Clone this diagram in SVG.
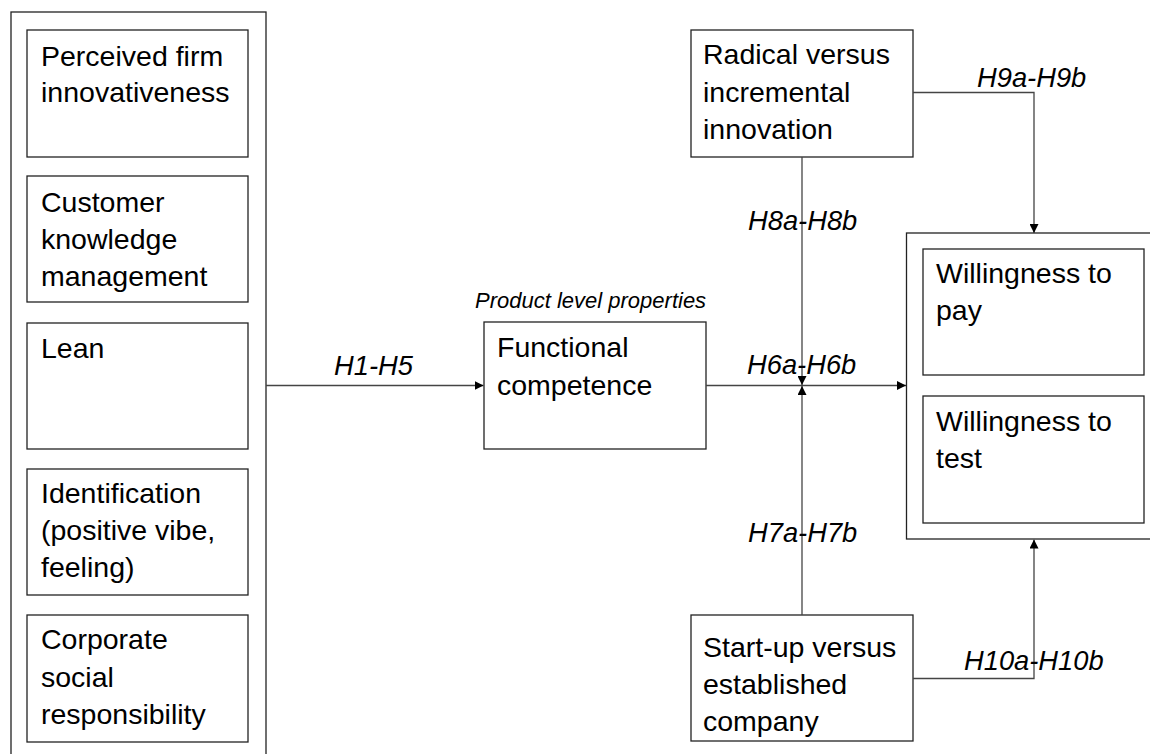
<svg xmlns="http://www.w3.org/2000/svg" width="1150" height="754" viewBox="0 0 1150 754">
<style>
.box{fill:#fff;stroke:#222;stroke-width:1.3}
.frame{fill:none;stroke:#222;stroke-width:1.3}
.t{font-family:"Liberation Sans",Arial,sans-serif;font-size:28.5px;fill:#000}
.lbl{font-family:"Liberation Sans",Arial,sans-serif;font-size:27.3px;font-style:italic;fill:#000}
.sm{font-family:"Liberation Sans",Arial,sans-serif;font-size:22px;font-style:italic;fill:#000}
.c{fill:none;stroke:#444;stroke-width:1.3}
</style>
<defs>
<marker id="arr" viewBox="0 0 10 10" refX="10" refY="5" markerWidth="9" markerHeight="9" markerUnits="userSpaceOnUse" orient="auto">
<path d="M0,0 L10,5 L0,10 Z" fill="#000"/>
</marker>
</defs>
<rect width="1150" height="754" fill="#fff"/>

<g id="left-group">
<rect class="frame" x="11" y="12" width="255" height="760"/>
</g>
<g id="n-perceived">
<rect class="box" x="27" y="30" width="221" height="127"/>
<text class="t" x="41" y="66">Perceived firm</text>
<text class="t" x="41" y="102">innovativeness</text>
</g>
<g id="n-customer">
<rect class="box" x="27" y="176" width="221" height="126"/>
<text class="t" x="41" y="212">Customer</text>
<text class="t" x="41" y="249">knowledge</text>
<text class="t" x="41" y="286">management</text>
</g>
<g id="n-lean">
<rect class="box" x="27" y="323" width="221" height="126"/>
<text class="t" x="41" y="358">Lean</text>
</g>
<g id="n-identification">
<rect class="box" x="27" y="469" width="221" height="126"/>
<text class="t" x="41" y="503">Identification</text>
<text class="t" x="41" y="540">(positive vibe,</text>
<text class="t" x="41" y="577">feeling)</text>
</g>
<g id="n-csr">
<rect class="box" x="27" y="615" width="221" height="127"/>
<text class="t" x="41" y="649">Corporate</text>
<text class="t" x="41" y="687">social</text>
<text class="t" x="41" y="724">responsibility</text>
</g>

<g id="n-functional">
<text class="sm" x="475" y="308">Product level properties</text>
<rect class="box" x="484" y="322" width="222" height="127"/>
<text class="t" x="497" y="357">Functional</text>
<text class="t" x="497" y="395">competence</text>
</g>

<g id="n-radical">
<rect class="box" x="691" y="30" width="222" height="127"/>
<text class="t" x="703" y="64">Radical versus</text>
<text class="t" x="703" y="102">incremental</text>
<text class="t" x="703" y="139">innovation</text>
</g>

<g id="n-startup">
<rect class="box" x="691" y="615" width="222" height="126"/>
<text class="t" x="703" y="657">Start-up versus</text>
<text class="t" x="703" y="694">established</text>
<text class="t" x="703" y="731">company</text>
</g>

<g id="outcome-group">
<rect class="frame" x="906.5" y="233" width="260" height="306"/>
</g>
<g id="n-wtp">
<rect class="box" x="923" y="249" width="221" height="126"/>
<text class="t" x="936" y="283">Willingness to</text>
<text class="t" x="936" y="320">pay</text>
</g>
<g id="n-wtt">
<rect class="box" x="923" y="396" width="221" height="127"/>
<text class="t" x="936" y="431">Willingness to</text>
<text class="t" x="936" y="468">test</text>
</g>

<g id="connectors">
<path class="c" d="M266,385.5 H483.5" marker-end="url(#arr)"/>
<path class="c" d="M706,385.5 H906" marker-end="url(#arr)"/>
<path class="c" d="M802,157 V385" marker-end="url(#arr)"/>
<path class="c" d="M802,615 V386" marker-end="url(#arr)"/>
<path class="c" d="M913,92.5 H1034 V233" marker-end="url(#arr)"/>
<path class="c" d="M913,678.5 H1034 V539.5" marker-end="url(#arr)"/>
<text class="lbl" x="334" y="375">H1-H5</text>
<text class="lbl" x="747" y="374">H6a-H6b</text>
<text class="lbl" x="748" y="542">H7a-H7b</text>
<text class="lbl" x="748" y="230">H8a-H8b</text>
<text class="lbl" x="977" y="87">H9a-H9b</text>
<text class="lbl" x="964" y="670">H10a-H10b</text>
</g>
</svg>
